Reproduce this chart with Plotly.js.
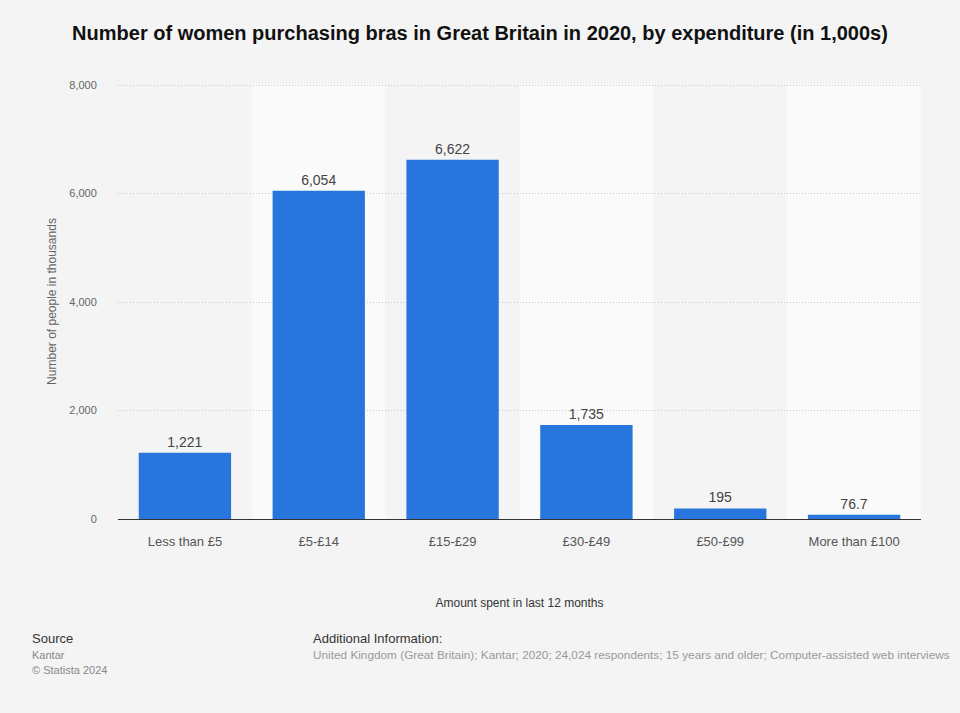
<!DOCTYPE html>
<html>
<head>
<meta charset="utf-8">
<script src="https://cdn.plot.ly/plotly-3.0.1.min.js"></script>
<style>
html,body{margin:0;padding:0;background:#f4f4f4;}
#chart{width:960px;height:713px;}
</style>
</head>
<body>
<div id="chart"></div>
<script>
const categories = ["Less than £5", "£5-£14", "£15-£29", "£30-£49", "£50-£99", "More than £100"];
const values = [1221, 6054, 6622, 1735, 195, 76.7];
const yTicks = [0, 2000, 4000, 6000, 8000];

const shapes = [];
categories.forEach((c, i) => {
  if (i % 2 === 1) {
    shapes.push({type: 'rect', xref: 'x', yref: 'paper', x0: i - 0.5, x1: i + 0.5, y0: 0, y1: 1,
      fillcolor: '#fafafa', line: {width: 0}, layer: 'below'});
  }
});

const trace = {
  type: 'bar',
  x: categories.map((c, i) => i),
  y: values,
  marker: {color: '#2876dd'},
  width: 0.69,
  texttemplate: '%{y:,}',
  textposition: 'outside',
  cliponaxis: false,
  textfont: {family: 'Liberation Sans, Arial, sans-serif', size: 14, color: '#444'},
  hoverinfo: 'skip'
};

const layout = {
  width: 960, height: 713,
  paper_bgcolor: '#f4f4f4', plot_bgcolor: 'rgba(0,0,0,0)',
  margin: {l: 118, r: 39, t: 84, b: 194},
  showlegend: false,
  title: {text: '<b>Number of women purchasing bras in Great Britain in 2020, by expenditure (in 1,000s)</b>',
    font: {family: 'Liberation Sans, Arial, sans-serif', size: 20, color: '#111'},
    x: 0.5, xanchor: 'center', y: 0.954, yanchor: 'middle'},
  xaxis: {
    tickmode: 'array', tickvals: categories.map((c, i) => i), ticktext: categories,
    range: [-0.5, categories.length - 0.5],
    showgrid: false, zeroline: false, showline: true, linecolor: '#333', linewidth: 1,
    ticks: 'outside', ticklen: 10, tickcolor: 'rgba(0,0,0,0)',
    tickfont: {family: 'Liberation Sans, Arial, sans-serif', size: 13, color: '#555'},
    title: {text: 'Amount spent in last 12 months', standoff: 51,
      font: {family: 'Liberation Sans, Arial, sans-serif', size: 12, color: '#333'}}
  },
  yaxis: {
    range: [0, 8020], tickvals: yTicks, tickformat: ',',
    showgrid: true, gridcolor: '#c8c8c8', griddash: '1px,2px', gridwidth: 1,
    zeroline: false, showline: false,
    ticks: 'outside', ticklen: 18, tickcolor: 'rgba(0,0,0,0)',
    tickfont: {family: 'Liberation Sans, Arial, sans-serif', size: 11, color: '#666'},
    title: {text: 'Number of people in thousands', standoff: 10,
      font: {family: 'Liberation Sans, Arial, sans-serif', size: 12, color: '#666'}}
  },
  shapes: shapes,
  annotations: [
    {text: 'Source', xref: 'paper', yref: 'paper', x: -0.1095, y: -0.275, xanchor: 'left', yanchor: 'middle',
      showarrow: false, font: {family: 'Liberation Sans, Arial, sans-serif', size: 13, color: '#333'}},
    {text: 'Kantar', xref: 'paper', yref: 'paper', x: -0.1095, y: -0.312, xanchor: 'left', yanchor: 'middle',
      showarrow: false, font: {family: 'Liberation Sans, Arial, sans-serif', size: 11, color: '#888'}},
    {text: '© Statista 2024', xref: 'paper', yref: 'paper', x: -0.1095, y: -0.347, xanchor: 'left', yanchor: 'middle',
      showarrow: false, font: {family: 'Liberation Sans, Arial, sans-serif', size: 11, color: '#888'}},
    {text: 'Additional Information:', xref: 'paper', yref: 'paper', x: 0.2404, y: -0.275, xanchor: 'left', yanchor: 'middle',
      showarrow: false, font: {family: 'Liberation Sans, Arial, sans-serif', size: 13, color: '#333'}},
    {text: 'United Kingdom (Great Britain); Kantar; 2020; 24,024 respondents; 15 years and older; Computer-assisted web interviews',
      xref: 'paper', yref: 'paper', x: 0.2404, y: -0.312, xanchor: 'left', yanchor: 'middle',
      showarrow: false, font: {family: 'Liberation Sans, Arial, sans-serif', size: 11.8, color: '#999'}}
  ]
};

Plotly.newPlot('chart', [trace], layout, {displayModeBar: false, staticPlot: true});
</script>
</body>
</html>
